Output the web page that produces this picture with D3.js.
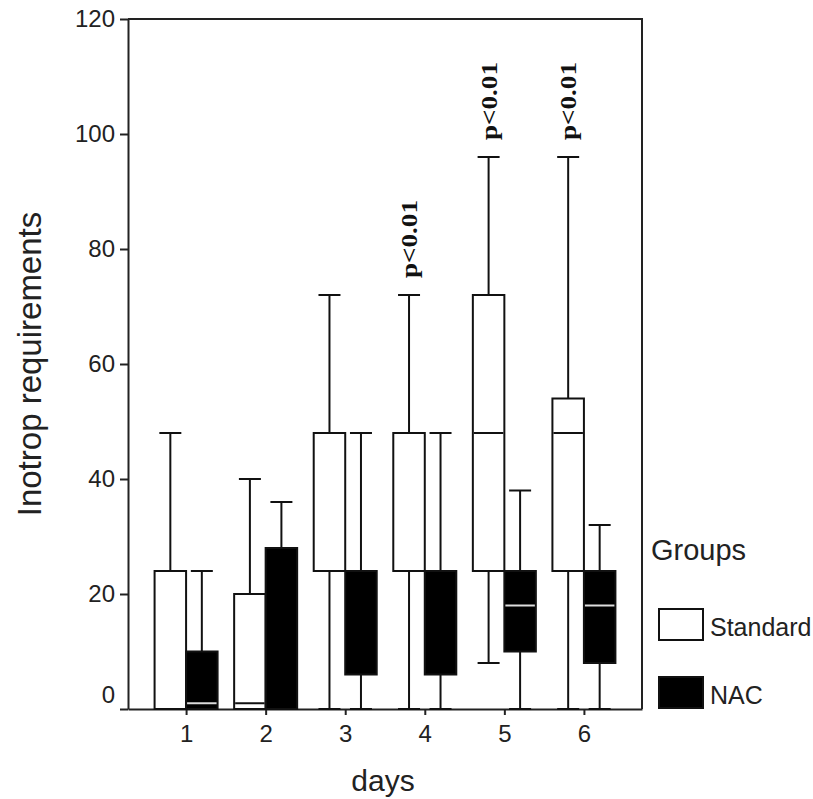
<!DOCTYPE html>
<html>
<head>
  <script src="https://d3js.org/d3.v7.min.js"></script>
  <title>Inotrop requirements by day</title>
  <style>
    body { margin: 0; background: #fff; }
    .axis text { font-family: "Liberation Sans", Arial, sans-serif; font-size: 24px; fill: #222; }
    .axis path, .axis line { stroke: #222; stroke-width: 2; }
    .label { font-family: "Liberation Sans", Arial, sans-serif; fill: #222; }
    .sig { font-family: "Liberation Serif", "Times New Roman", serif; font-weight: bold; font-size: 24px; fill: #111; }
  </style>
</head>
<body>
<div id="chart"></div>
<script>
// data
var days = ["1", "2", "3", "4", "5", "6"];
var groups = ["Standard", "NAC"];
var yTicks = [0, 20, 40, 60, 80, 100, 120];

var stdLow    = [0, 0, 0, 0, 8, 0];
var stdQ1     = [0, 0, 24, 24, 24, 24];
var stdMedian = [0, 1, 24, 24, 48, 48];
var stdQ3     = [24, 20, 48, 48, 72, 54];
var stdHigh   = [48, 40, 72, 72, 96, 96];

var nacLow    = [0, 0, 0, 0, 0, 0];
var nacQ1     = [0, 0, 6, 6, 10, 8];
var nacMedian = [1, 0, 24, 24, 18, 18];
var nacQ3     = [10, 28, 24, 24, 24, 24];
var nacHigh   = [24, 36, 48, 48, 38, 32];

var sigDays = ["4", "5", "6"];
var sigLabel = "p<0.01";

var width = 813, height = 799;
var plotLeft = 128, plotRight = 642, plotTop = 19, plotBottom = 709;
var boxW = 31.5, capW = 22;

var svg = d3.select("#chart").append("svg")
  .attr("width", width)
  .attr("height", height);

var x = d3.scalePoint()
  .domain(days)
  .range([plotLeft, plotRight])
  .padding(0.73);

var y = d3.scaleLinear()
  .domain([0, 120])
  .range([plotBottom, plotTop]);

// frame (top + right)
svg.append("path")
  .attr("d", "M" + plotLeft + "," + plotTop + "H" + plotRight + "V" + plotBottom)
  .attr("fill", "none")
  .attr("stroke", "#222")
  .attr("stroke-width", 2);

var yAxis = svg.append("g")
  .attr("class", "axis")
  .attr("transform", "translate(" + plotLeft + ",0)")
  .call(d3.axisLeft(y).tickValues(yTicks).tickSize(8).tickSizeOuter(0).tickPadding(5));
yAxis.selectAll(".tick text").filter(function(d) { return d === 0; }).attr("y", -14);

svg.append("g")
  .attr("class", "axis")
  .attr("transform", "translate(0," + plotBottom + ")")
  .call(d3.axisBottom(x).tickSize(6).tickSizeOuter(0).tickPadding(10));

// build boxes
var boxes = [];
days.forEach(function(d, i) {
  boxes.push({ day: d, group: "Standard", low: stdLow[i], q1: stdQ1[i], med: stdMedian[i], q3: stdQ3[i], high: stdHigh[i] });
  boxes.push({ day: d, group: "NAC", low: nacLow[i], q1: nacQ1[i], med: nacMedian[i], q3: nacQ3[i], high: nacHigh[i] });
});

function boxLeft(b) { return b.group === "Standard" ? x(b.day) - boxW : x(b.day); }
function boxMid(b) { return boxLeft(b) + boxW / 2; }

var g = svg.selectAll(".box")
  .data(boxes)
  .enter().append("g")
  .attr("class", "box");

// whiskers
g.append("line")
  .attr("x1", boxMid).attr("x2", boxMid)
  .attr("y1", function(b) { return y(b.q3); })
  .attr("y2", function(b) { return y(b.high); })
  .attr("stroke", "#111").attr("stroke-width", 2);
g.append("line")
  .attr("x1", boxMid).attr("x2", boxMid)
  .attr("y1", function(b) { return y(b.q1); })
  .attr("y2", function(b) { return y(b.low); })
  .attr("stroke", "#111").attr("stroke-width", 2);
g.append("line")
  .attr("x1", function(b) { return boxMid(b) - capW / 2; })
  .attr("x2", function(b) { return boxMid(b) + capW / 2; })
  .attr("y1", function(b) { return y(b.high); })
  .attr("y2", function(b) { return y(b.high); })
  .attr("stroke", "#111").attr("stroke-width", 2);
g.append("line")
  .attr("x1", function(b) { return boxMid(b) - capW / 2; })
  .attr("x2", function(b) { return boxMid(b) + capW / 2; })
  .attr("y1", function(b) { return y(b.low); })
  .attr("y2", function(b) { return y(b.low); })
  .attr("stroke", "#111").attr("stroke-width", 2);

g.append("rect")
  .attr("x", boxLeft)
  .attr("y", function(b) { return y(b.q3); })
  .attr("width", boxW)
  .attr("height", function(b) { return y(b.q1) - y(b.q3); })
  .attr("fill", function(b) { return b.group === "Standard" ? "#fff" : "#000"; })
  .attr("stroke", "#111")
  .attr("stroke-width", 2);

// medians (skip when on a box edge)
g.filter(function(b) { return b.med > b.q1 && b.med < b.q3; })
  .append("line")
  .attr("x1", function(b) { return boxLeft(b) + 1; })
  .attr("x2", function(b) { return boxLeft(b) + boxW - 1; })
  .attr("y1", function(b) { return y(b.med); })
  .attr("y2", function(b) { return y(b.med); })
  .attr("stroke", function(b) { return b.group === "Standard" ? "#111" : "#ddd"; })
  .attr("stroke-width", 2);

// significance labels
svg.selectAll(".sig")
  .data(boxes.filter(function(b) { return b.group === "Standard" && sigDays.indexOf(b.day) >= 0; }))
  .enter().append("text")
  .attr("class", "sig")
  .attr("transform", function(b) { return "translate(" + (boxMid(b) + 8) + "," + (y(b.high) - 17) + ") rotate(-90)"; })
  .attr("textLength", 78)
  .attr("lengthAdjust", "spacingAndGlyphs")
  .text(sigLabel);

// axis titles
svg.append("text")
  .attr("class", "label")
  .attr("transform", "translate(41," + (plotTop + plotBottom) / 2 + ") rotate(-90)")
  .attr("text-anchor", "middle")
  .style("font-size", "33px")
  .text("Inotrop requirements");

svg.append("text")
  .attr("class", "label")
  .attr("x", 383)
  .attr("y", 791)
  .attr("text-anchor", "middle")
  .style("font-size", "30px")
  .text("days");

// legend
svg.append("text")
  .attr("class", "label")
  .attr("x", 651)
  .attr("y", 560)
  .style("font-size", "29px")
  .text("Groups");

var legend = svg.selectAll(".legend-item")
  .data(groups)
  .enter().append("g")
  .attr("class", "legend-item")
  .attr("transform", function(d, i) { return "translate(659," + (609 + i * 68) + ")"; });

legend.append("rect")
  .attr("width", 44)
  .attr("height", 31)
  .attr("fill", function(d) { return d === "Standard" ? "#fff" : "#000"; })
  .attr("stroke", "#111")
  .attr("stroke-width", 2);

legend.append("text")
  .attr("class", "label")
  .attr("x", 51)
  .attr("y", 27)
  .style("font-size", "25px")
  .text(function(d) { return d; });
</script>
</body>
</html>
